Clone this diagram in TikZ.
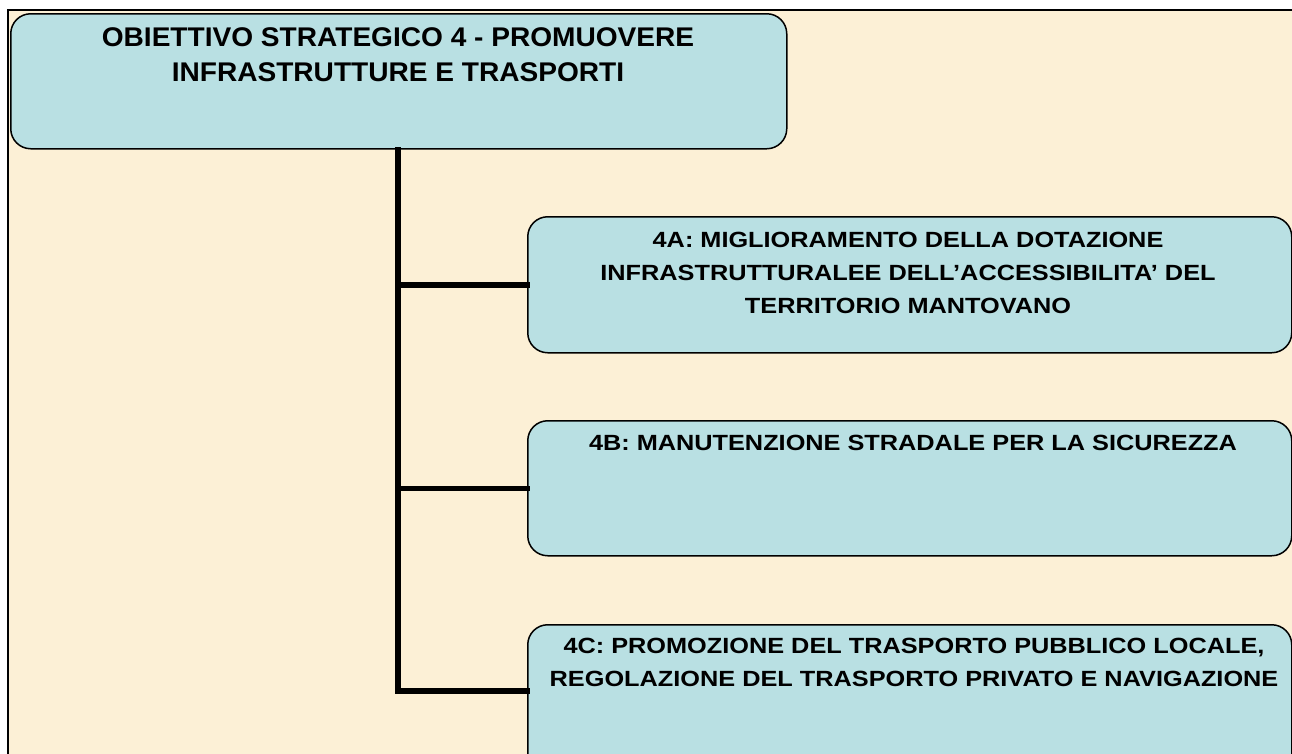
\documentclass[tikz,border=0pt]{standalone}
\usepackage{fontspec}
\setmainfont{Liberation Sans}
\newfontfamily\titlefont[FakeStretch=1.04]{Liberation Sans}
\newfontfamily\subfont[FakeStretch=1.15]{Liberation Sans}
\definecolor{parch}{RGB}{252,240,214}
\definecolor{boxfill}{RGB}{185,224,227}
\tikzset{
  goalbox/.style={draw=black, line width=1.5pt, fill=boxfill, rounded corners=20pt, inner sep=0pt, anchor=north west},
  titletext/.style={anchor=north, inner sep=0pt, align=center, font=\titlefont\fontsize{27}{35}\selectfont\bfseries},
  subtext/.style={anchor=north, inner sep=0pt, align=center, font=\subfont\fontsize{22}{33}\selectfont\bfseries},
  branch/.style={line width=5.5pt, line cap=rect},
  frameline/.style={line width=2pt}
}
\begin{document}
\begin{tikzpicture}[x=1pt,y=-1pt]
\useasboundingbox (0,0) rectangle (1292,753);
\clip (0,0) rectangle (1292,753);
\fill[white] (0,0) rectangle (1292,753);
\fill[parch] (8,10) rectangle (1310,770);
\draw[frameline] (8,780) -- (8,10) -- (1310,10);
% boxes
\node[goalbox, minimum width=776pt, minimum height=135pt] (top) at (10,13) {};
\node[goalbox, minimum width=764pt, minimum height=136pt] (a) at (527,216) {};
\node[goalbox, minimum width=764pt, minimum height=135pt] (b) at (527,420) {};
\node[goalbox, minimum width=764pt, minimum height=150pt] (c) at (527,624) {};
% connectors
\coordinate (trunk) at (398,691);
\draw[branch] (top.south -| trunk) -- (trunk) -- (trunk -| c.west);
\draw[branch] (a.west -| trunk) -- (a.west);
\draw[branch] (b.west -| trunk) -- (b.west);
% texts
\node[titletext] (ttop) at (398,27) {OBIETTIVO STRATEGICO 4 - PROMUOVERE\\INFRASTRUTTURE E TRASPORTI};
\node[subtext] (ta) at (908,232) {4A: MIGLIORAMENTO DELLA DOTAZIONE\\INFRASTRUTTURALEE DELL’ACCESSIBILITA’ DEL\\TERRITORIO MANTOVANO};
\node[subtext] (tb) at (913,435) {4B: MANUTENZIONE STRADALE PER LA SICUREZZA};
\node[subtext] (tc) at (914,638) {4C: PROMOZIONE DEL TRASPORTO PUBBLICO LOCALE,\\REGOLAZIONE DEL TRASPORTO PRIVATO E NAVIGAZIONE};
\end{tikzpicture}
\end{document}
